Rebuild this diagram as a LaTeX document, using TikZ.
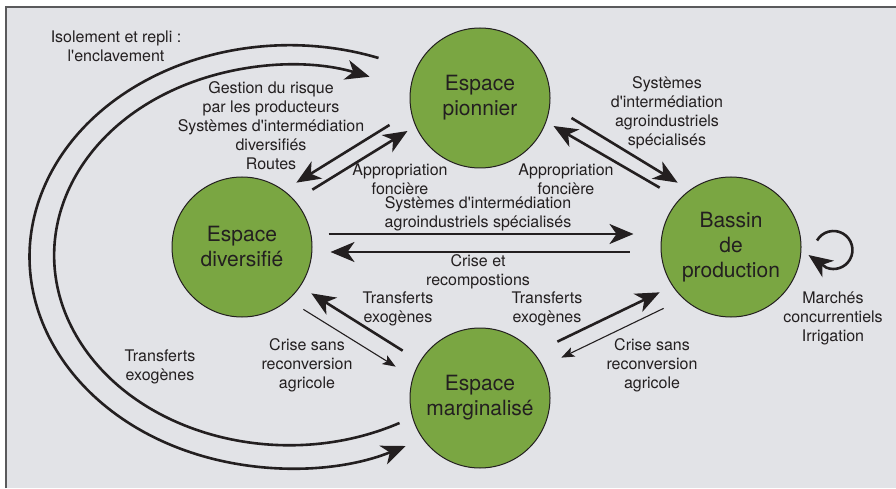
\documentclass[tikz,border=0pt]{standalone}
\usepackage{fontspec}
\setmainfont{TeX Gyre Heros}
\usepackage{tikz}
\usetikzlibrary{arrows.meta}
\definecolor{espace_green}{RGB}{122,166,66}
\definecolor{panel_grey}{RGB}{226,227,231}
\definecolor{frame_grey}{RGB}{90,90,92}
\definecolor{ink}{RGB}{35,31,32}
\newcommand{\ap}{\textquotesingle}

\tikzset{
	espace/.style={circle,draw=ink,line width=1pt,fill=espace_green,minimum size=140pt,
		inner sep=0pt,align=center,text=ink,font=\fontsize{21}{25}\selectfont},
	lbl/.style={align=center,text=ink,inner sep=0pt,font=\fontsize{16}{19}\selectfont},
	flux/.style={draw=ink,line width=2.6pt,-{Stealth[length=24pt,width=20pt,inset=7pt]}},
	fluxthin/.style={draw=ink,line width=1.1pt,-{Stealth[length=13pt,width=10pt,inset=3pt]}}
}

\begin{document}
\begin{tikzpicture}[x=1pt,y=1pt]
	\useasboundingbox (0,0) rectangle (896,488);
	% panel
	\fill[panel_grey] (6,0) rectangle (896,481);
	\draw[frame_grey,line width=2pt] (6,0) -- (6,481) -- (896,481);

	% the four spaces
	\node[espace] (pio) at (480,390) {Espace\\pionnier};
	\node[espace] (div) at (242,241) {Espace\\diversifié};
	\node[espace] (bas) at (731,241) {Bassin\\de\\production};
	\node[espace] (mar) at (480,90) {Espace\\marginalisé};

	% labels
	\node[lbl] (iso) at (116,442) {Isolement et repli :\\l\ap enclavement};
	\node[lbl] (gest) at (271,362) {Gestion du risque\\par les producteurs\\Systèmes d\ap intermédiation\\diversifiés\\Routes};
	\node[lbl] (appL) at (400,309) {Appropriation\\foncière};
	\node[lbl] (appR) at (566,309) {Appropriation\\foncière};
	\node[lbl] (sysM) at (478,274) {Systèmes d\ap intermédiation\\agroindustriels spécialisés};
	\node[lbl] (sysR) at (667,375) {Systèmes\\d\ap intermédiation\\agroindustriels\\spécialisés};
	\node[lbl] (crise) at (478,216) {Crise et\\recompostions};
	\node[lbl] (trL) at (398,179) {Transferts\\exogènes};
	\node[lbl] (crL) at (307,123) {Crise sans\\reconversion\\agricole};
	\node[lbl] (trFar) at (160,121) {Transferts\\exogènes};
	\node[lbl] (trR) at (547,179) {Transferts\\exogènes};
	\node[lbl] (crR) at (652,123) {Crise sans\\reconversion\\agricole};
	\node[lbl] (marc) at (833,170) {Marchés\\concurrentiels\\Irrigation};

	% diversifie <-> bassin
	\draw[flux] ([shift={(16,13)}]div.east) -- ([shift={(-27,13)}]bas.west);
	\draw[flux] ([shift={(-31,-5)}]bas.west) -- ([shift={(18,-5)}]div.east);

	% pionnier <-> diversifie
	\draw[flux] ([shift={(-20,-27)}]pio.west) -- ([shift={(4.5,14.5)}]div.45);
	\draw[flux] ([shift={(20.5,7.5)}]div.45) -- ([shift={(-2,-33)}]pio.west);

	% pionnier <-> bassin
	\draw[flux] ([shift={(21,-20)}]pio.east) -- ([shift={(-3.5,14.5)}]bas.135);
	\draw[flux] ([shift={(-21.5,9.5)}]bas.135) -- ([shift={(3,-28)}]pio.east);

	% marginalise <-> diversifie
	\draw[flux] ([shift={(-27.5,-2.5)}]mar.135) -- ([shift={(19.5,3.5)}]div.-45);
	\draw[fluxthin] ([shift={(11.5,-12.5)}]div.-45) -- ([shift={(-34.5,-18.5)}]mar.135);

	% marginalise <-> bassin
	\draw[flux] ([shift={(27.5,6.5)}]mar.45) -- ([shift={(-21.5,4.5)}]bas.-135);
	\draw[fluxthin] ([shift={(-17.5,-11.5)}]bas.-135) -- ([shift={(31.5,-9.5)}]mar.45);

	% enclavement and transferts around the left
	\draw[flux] ([shift={(-31,40)}]pio.west) arc[start angle=70,end angle=296.5,x radius=260,y radius=211.5];
	\draw[flux] ([shift={(-10,-25)}]mar.west) arc[start angle=298,end angle=70,x radius=235,y radius=190];

	% bassin loop
	\draw[flux] ([shift={(15.5,6.5)}]bas.east) arc[start angle=150,end angle=-112,radius=19]
		-- ([shift={(7,-8)}]bas.east);
\end{tikzpicture}
\end{document}
